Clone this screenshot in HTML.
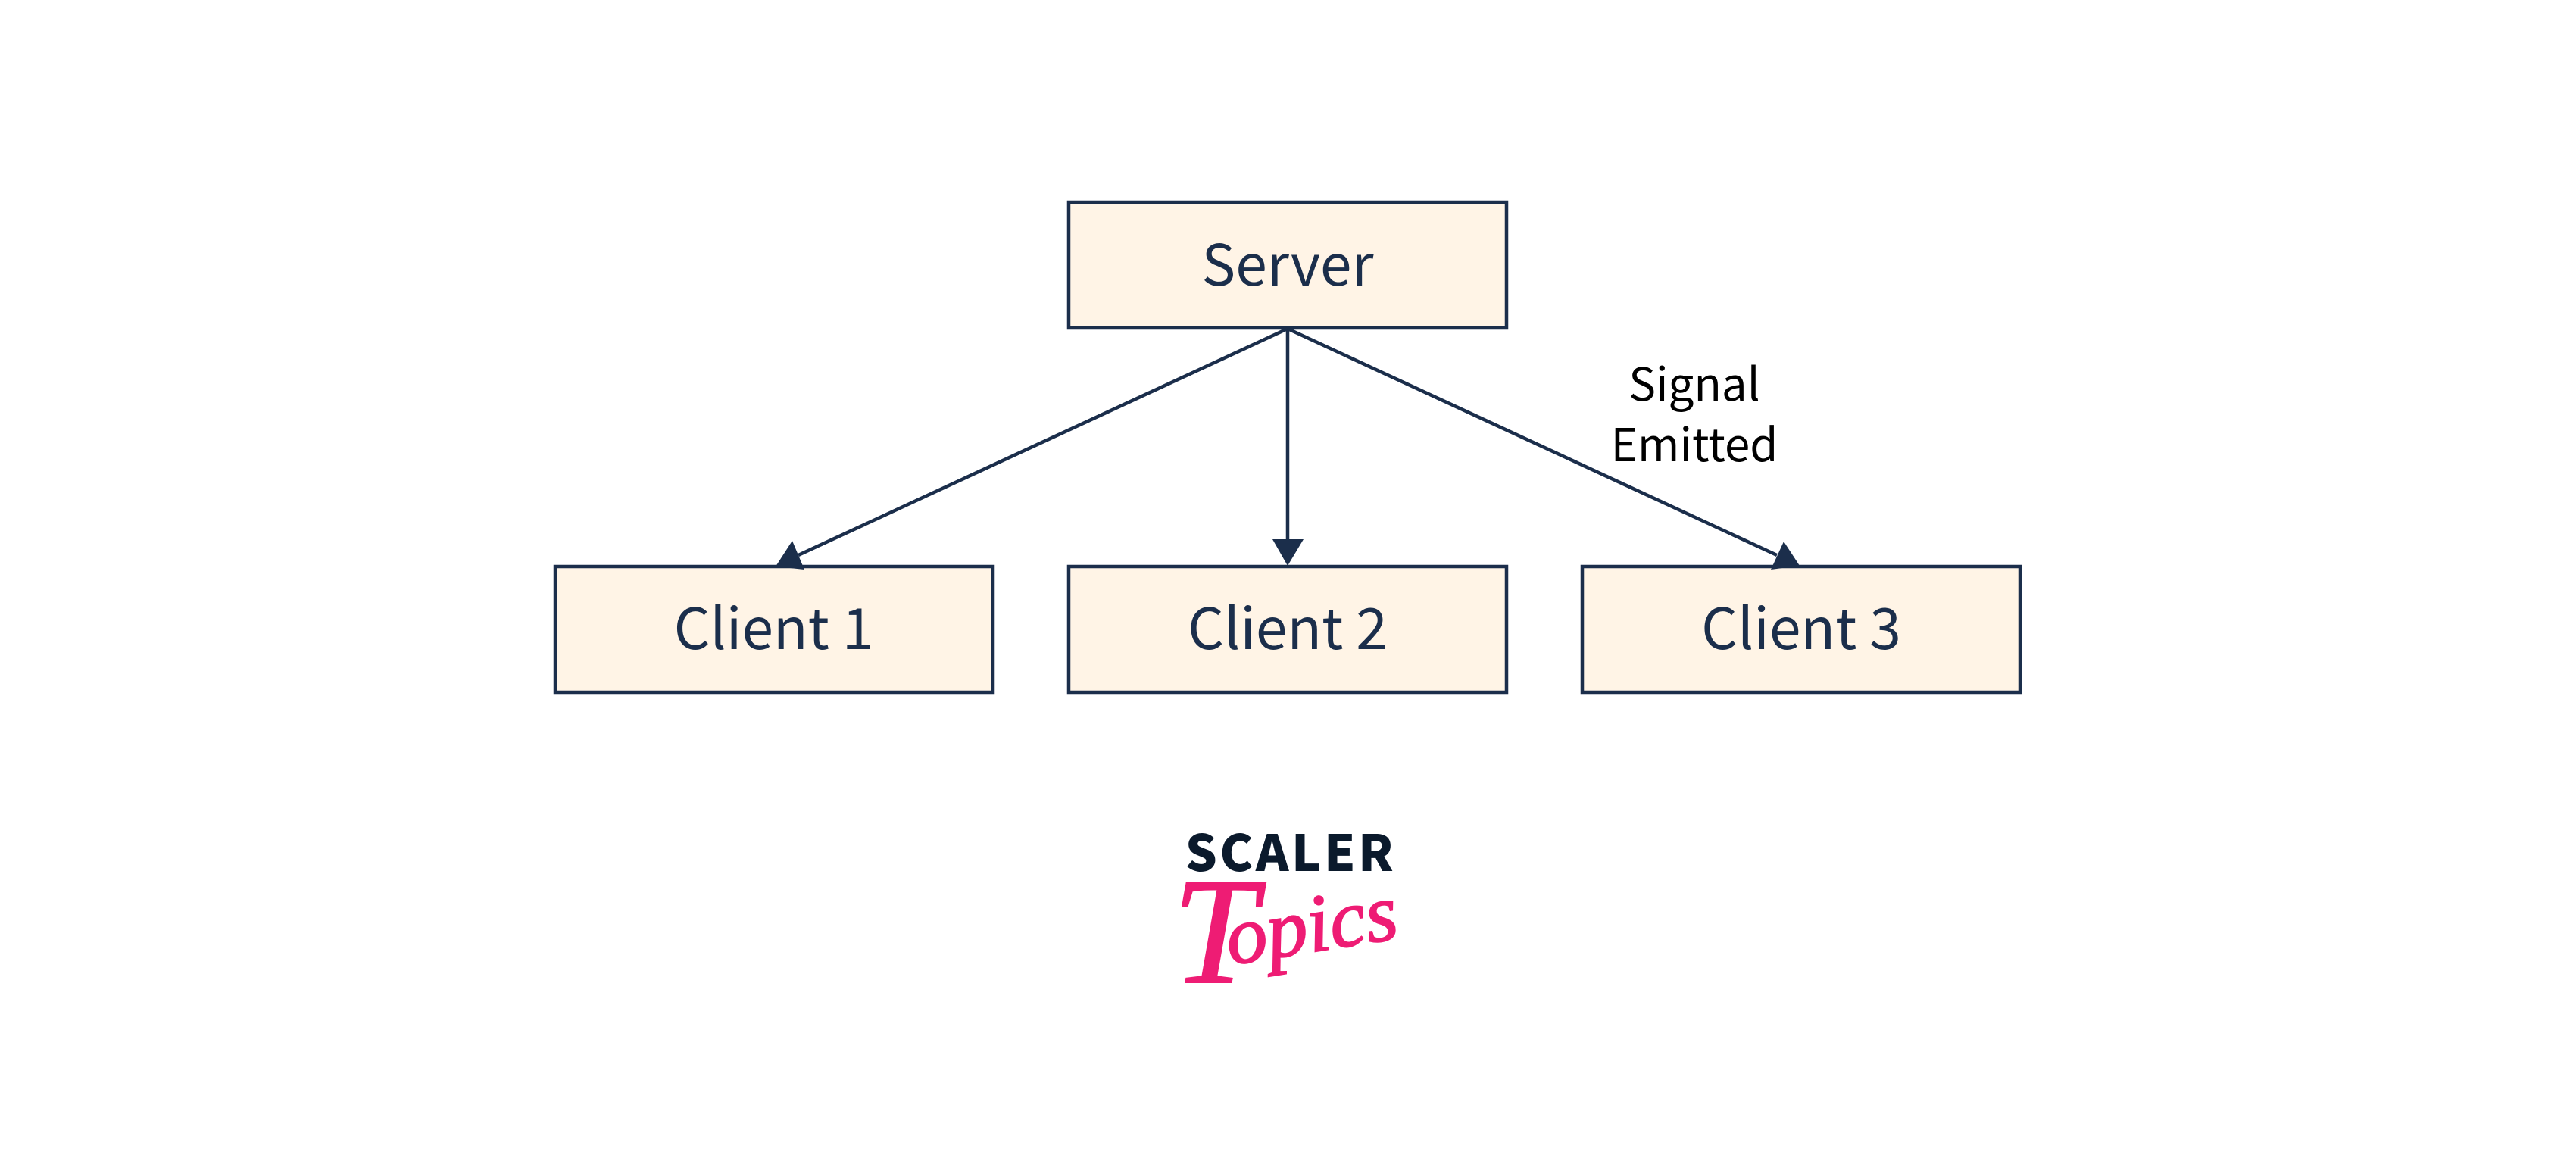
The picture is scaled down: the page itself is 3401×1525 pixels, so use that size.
<!DOCTYPE html>
<html><head><meta charset="utf-8"><title>Signal diagram</title>
<style>html,body{margin:0;padding:0;background:#fff}svg{display:block}</style></head>
<body>
<svg width="3401" height="1525" viewBox="0 0 3401 1525" xmlns="http://www.w3.org/2000/svg">
<rect width="3401" height="1525" fill="#fff"/>
<g fill="#fff4e6" stroke="#1b2e4b" stroke-width="4.5">
<rect x="1411" y="267" width="578" height="166"/>
<rect x="733" y="748" width="578" height="166"/>
<rect x="1411" y="748" width="578" height="166"/>
<rect x="2089" y="748" width="578" height="166"/>
</g>
<g stroke="#1b2e4b" stroke-width="4.5" fill="none">
<line x1="1700" y1="434" x2="1054" y2="733"/>
<line x1="1700" y1="434" x2="1700" y2="714"/>
<line x1="1700" y1="434" x2="2346" y2="733"/>
</g>
<g fill="#1b2e4b">
<polygon points="1046,714 1024,748 1062,752"/>
<polygon points="1680,712 1721,712 1700,747"/>
<polygon points="2355,715 2338,752 2376,747"/>
</g>
<g font-family="'Noto Sans CJK SC','Liberation Sans',sans-serif" font-size="75" fill="#1b2e4b" text-anchor="middle">
<text x="1700" y="377">Server</text>
<text x="1021.5" y="857">Client 1</text>
<text x="1700" y="857">Client 2</text>
<text x="2378" y="857">Client 3</text>
</g>
<g font-family="'Noto Sans CJK SC','Liberation Sans',sans-serif" font-size="60" fill="#000" text-anchor="middle">
<text x="2237" y="529">Signal</text>
<text x="2237" y="609">Emitted</text>
</g>
<text x="1704" y="1150" font-family="'Noto Sans CJK SC','Liberation Sans',sans-serif" font-weight="900" font-size="66" letter-spacing="3.5" fill="#0b1a2c" text-anchor="middle">SCALER</text>
<g font-family="'Liberation Serif',serif" font-style="italic" fill="#ee1c74" stroke="#ee1c74" stroke-width="2">
<text x="1548" y="1297" font-size="200">T</text>
<text x="1624" y="1274" font-size="108" transform="rotate(-9 1624 1274)">opics</text>
</g>
</svg>
</body></html>
